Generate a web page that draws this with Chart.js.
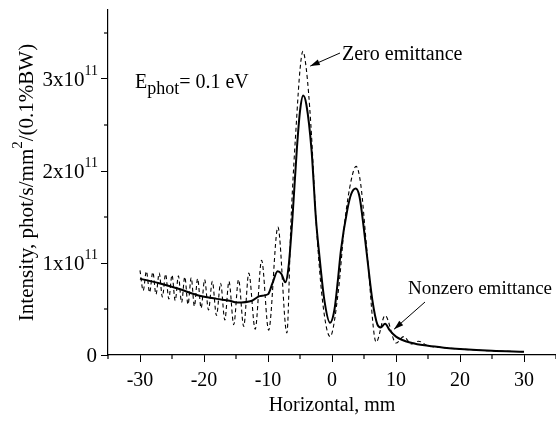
<!DOCTYPE html>
<html>
<head>
<meta charset="utf-8">
<script src="https://cdn.jsdelivr.net/npm/chart.js@4.4.0/dist/chart.umd.min.js"></script>
<style>
body { margin: 0; background: #fff; }
#wrap { width: 556px; height: 421px; }
</style>
</head>
<body>
<div id="wrap"><canvas id="grafico" width="556" height="421"></canvas></div>
<script>
// intensity in units of 1e11 phot/s/mm2/(0.1%BW), horizontal position in mm
var nonzeroX = [-30, -27, -24, -21, -18, -16, -14.9, -12.5, -11.3, -10, -9.3, -8.5, -7.9, -7.3, -6.8, -6.2, -5.5, -5, -4.5, -4, -3.2, -2.5, -2, -1.2, -0.3, 0.4, 0.9, 1.4, 2.4, 3, 3.7, 4.3, 5, 5.6, 6.3, 7.1, 7.6, 8.3, 9, 10, 12.5, 15, 17.5, 20, 25, 30];
var nonzeroY = [0.83, 0.78, 0.72, 0.65, 0.61, 0.59, 0.57, 0.59, 0.64, 0.66, 0.78, 0.91, 0.88, 0.79, 0.95, 1.47, 2.23, 2.65, 2.82, 2.72, 2.23, 1.47, 1.1, 0.6, 0.35, 0.5, 0.8, 1.14, 1.58, 1.75, 1.81, 1.72, 1.36, 1.0, 0.6, 0.33, 0.3, 0.34, 0.27, 0.2, 0.13, 0.1, 0.08, 0.065, 0.045, 0.036];

var zeroX = [-30, -29.5, -29, -28.5, -28, -27.5, -27, -26.5, -26, -25.5, -25, -24.5, -24, -23.5, -23, -22.5, -22, -21.5, -21, -20.45, -19.9, -19.3, -18.7, -18.05, -17.4, -16.75, -16.1, -15.35, -14.6, -13.8, -13, -12, -11, -9.9, -8.45, -7.05,
  -6.4, -5.5, -5, -4.55, -4, -3.3, -2.5, -1.5, -0.3, 1, 2, 3, 3.77, 4.5, 5.5, 6.9, 8.3, 10, 11.2, 12.4, 13.5, 15, 17.5, 20, 25, 30];
var zeroY = [0.92, 0.70, 0.91, 0.68, 0.90, 0.66, 0.89, 0.63, 0.88, 0.61, 0.87, 0.59, 0.86, 0.57, 0.85, 0.55, 0.84, 0.53, 0.83, 0.51, 0.82, 0.49, 0.80, 0.43, 0.78, 0.38, 0.80, 0.33, 0.82, 0.31, 0.89, 0.28, 1.03, 0.27, 1.39, 0.24,
  1.47, 2.6, 3.1, 3.30, 3.1, 2.5, 1.47, 0.6, 0.2, 0.7, 1.45, 1.9, 2.05, 1.85, 1.1, 0.14, 0.43, 0.13, 0.2, 0.12, 0.15, 0.1, 0.08, 0.065, 0.045, 0.036];

var yTickLabels = ['0', '1x10', '2x10', '3x10'];
var yTickExp = '11';

function pares(xs, ys) {
  var out = [];
  for (var i = 0; i < xs.length; i++) out.push({x: xs[i], y: ys[i]});
  return out;
}

var fuente = "'Liberation Serif', 'Times New Roman', serif";

function flecha(ctx, x1, y1, x2, y2) {
  ctx.beginPath();
  ctx.moveTo(x1, y1);
  ctx.lineTo(x2, y2);
  ctx.lineWidth = 1;
  ctx.stroke();
  var a = Math.atan2(y2 - y1, x2 - x1);
  ctx.beginPath();
  ctx.moveTo(x2, y2);
  ctx.lineTo(x2 - 10 * Math.cos(a - 0.3), y2 - 10 * Math.sin(a - 0.3));
  ctx.lineTo(x2 - 10 * Math.cos(a + 0.3), y2 - 10 * Math.sin(a + 0.3));
  ctx.closePath();
  ctx.fill();
}

var extras = {
  id: 'extras',
  afterDraw: function(chart) {
    var ctx = chart.ctx;
    var xs = chart.scales.x, ys = chart.scales.y;
    var area = chart.chartArea;
    ctx.save();
    ctx.strokeStyle = '#000';
    ctx.fillStyle = '#000';
    ctx.lineWidth = 1.2;

    // minor ticks
    xs.ticks.forEach(function(t) {
      if (t.value % 10 !== 0) {
        var px = xs.getPixelForValue(t.value);
        ctx.beginPath(); ctx.moveTo(px, area.bottom); ctx.lineTo(px, area.bottom + 4); ctx.stroke();
      }
    });
    ys.ticks.forEach(function(t) {
      if (t.value % 1 !== 0) {
        var py = ys.getPixelForValue(t.value);
        ctx.beginPath(); ctx.moveTo(area.left, py); ctx.lineTo(area.left - 4, py); ctx.stroke();
      }
    });

    // y tick labels with exponent
    ctx.textBaseline = 'alphabetic';
    ys.ticks.forEach(function(t) {
      if (t.value % 1 !== 0) return;
      var py = ys.getPixelForValue(t.value);
      var txt = yTickLabels[t.value];
      if (!txt) return;
      if (t.value === 0) {
        ctx.font = '21px ' + fuente;
        ctx.textAlign = 'right';
        ctx.fillText(txt, 97, py + 7);
      } else {
        ctx.font = '14px ' + fuente;
        ctx.textAlign = 'right';
        ctx.fillText(yTickExp, 98, py - 4);
        var w = ctx.measureText(yTickExp).width;
        ctx.font = '21px ' + fuente;
        ctx.fillText(txt, 98 - w, py + 7);
      }
    });

    // y axis title with superscript
    ctx.save();
    ctx.translate(26, (area.top + area.bottom) / 2);
    ctx.rotate(-Math.PI / 2);
    ctx.textAlign = 'left';
    var p1 = 'Intensity, phot/s/mm', p2 = '2', p3 = '/(0.1%BW)';
    ctx.font = '21px ' + fuente;
    var w1 = ctx.measureText(p1).width, w3 = ctx.measureText(p3).width;
    ctx.font = '15px ' + fuente;
    var w2 = ctx.measureText(p2).width;
    var x0 = -(w1 + w2 + w3) / 2;
    ctx.font = '21px ' + fuente;
    ctx.fillText(p1, x0, 7);
    ctx.font = '15px ' + fuente;
    ctx.fillText(p2, x0 + w1, -4);
    ctx.font = '21px ' + fuente;
    ctx.fillText(p3, x0 + w1 + w2, 7);
    ctx.restore();

    // E_phot label
    ctx.textAlign = 'left';
    ctx.font = '20px ' + fuente;
    ctx.fillText('E', 135, 88);
    var we = ctx.measureText('E').width;
    ctx.font = '18px ' + fuente;
    ctx.fillText('phot', 135 + we, 94);
    var wp = ctx.measureText('phot').width;
    ctx.font = '20px ' + fuente;
    ctx.fillText('= 0.1 eV', 135 + we + wp, 88);

    // curve labels
    ctx.textBaseline = 'middle';
    ctx.fillText('Zero emittance', 342, 55);
    ctx.font = '19px ' + fuente;
    ctx.fillText('Nonzero emittance', 408, 289);
    flecha(ctx, 340, 53, xs.getPixelForValue(-3.4), ys.getPixelForValue(3.14));
    flecha(ctx, 425, 302, xs.getPixelForValue(9.7), ys.getPixelForValue(0.28));
    ctx.restore();
  }
};

var ctx = document.getElementById('grafico');
var grafico = new Chart(ctx, {
  type: 'line',
  data: {
    datasets: [
      {
        label: 'Nonzero emittance',
        data: pares(nonzeroX, nonzeroY),
        borderColor: '#000',
        borderWidth: 2,
        pointRadius: 0,
        cubicInterpolationMode: 'monotone',
        fill: false
      },
      {
        label: 'Zero emittance',
        data: pares(zeroX, zeroY),
        borderColor: '#000',
        borderWidth: 1.1,
        borderDash: [4, 3],
        pointRadius: 0,
        cubicInterpolationMode: 'monotone',
        fill: false
      }
    ]
  },
  options: {
    responsive: false,
    animation: false,
    devicePixelRatio: 1,
    layout: { padding: { top: 10, right: 0, left: 0, bottom: 0 } },
    plugins: { legend: { display: false }, tooltip: { enabled: false } },
    scales: {
      x: {
        type: 'linear',
        min: -35, max: 35,
        afterFit: function(s) { s.height = 66; s.paddingLeft = 0; s.paddingRight = 0; },
        border: { color: '#000', width: 1.2 },
        grid: {
          drawOnChartArea: false, tickLength: 7,
          tickColor: function(c) { return c.tick && c.tick.value % 10 === 0 ? '#000' : 'rgba(0,0,0,0)'; }
        },
        ticks: {
          stepSize: 5, autoSkip: false, maxRotation: 0, includeBounds: false,
          color: '#000', font: { family: fuente, size: 20 }, padding: 7,
          callback: function(v) { return v % 10 === 0 ? String(v) : ''; }
        },
        title: { display: true, text: 'Horizontal, mm', color: '#000', font: { family: fuente, size: 20 }, padding: { top: 0, bottom: 3 } }
      },
      y: {
        min: 0, max: 3.75,
        afterFit: function(s) { s.width = 108; s.paddingTop = 0; s.paddingBottom = 0; },
        border: { color: '#000', width: 1.2 },
        grid: {
          drawOnChartArea: false, tickLength: 7,
          tickColor: function(c) { return c.tick && c.tick.value % 1 === 0 ? '#000' : 'rgba(0,0,0,0)'; }
        },
        ticks: {
          stepSize: 0.5, autoSkip: false, includeBounds: false,
          callback: function() { return ''; }
        }
      }
    }
  },
  plugins: [extras]
});
</script>
</body>
</html>
